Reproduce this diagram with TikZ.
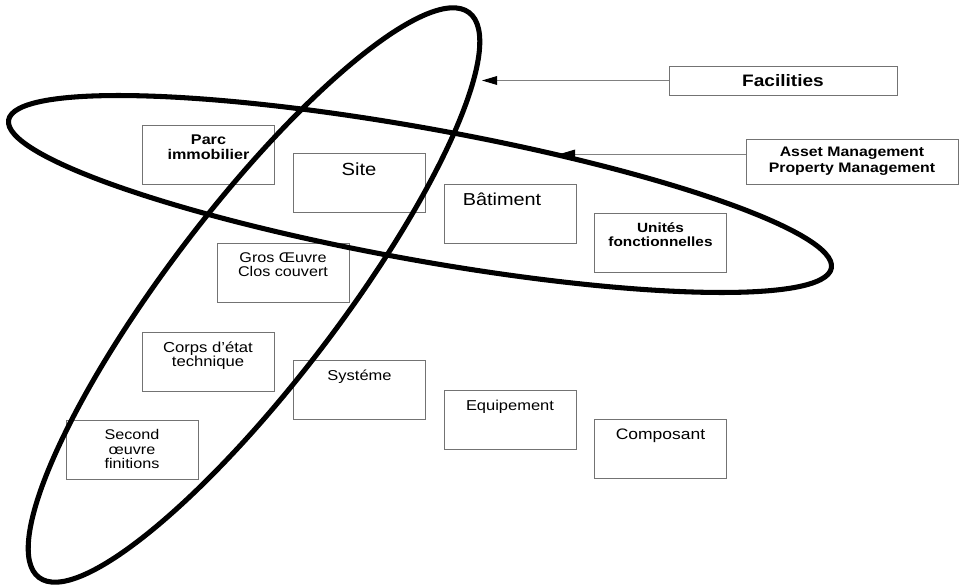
\documentclass[tikz,border=0pt]{standalone}
\usepackage{fontspec}
\setmainfont{Liberation Sans}[FakeStretch=1.15]
\usetikzlibrary{arrows.meta}

\tikzset{
	itemBox/.style={rectangle, draw=black!55, line width=0.7pt, minimum width=3.3cm, minimum height=1.475cm, inner sep=0pt},
	itemText/.style={anchor=north, align=center, inner sep=0pt, yshift=-0.24cm},
	groupBox/.style={rectangle, draw=black!55, line width=0.7pt, align=center, inner sep=0pt},
	groupArrow/.style={draw=black!50, line width=0.6pt, -{Triangle[length=0.38cm, width=0.22cm, color=black]}},
	groupEllipse/.style={draw=black, line width=3.6pt}
}

\begin{document}
\begin{tikzpicture}
	\useasboundingbox (0,0) rectangle (24.1,14.65);

	% draw top row boxes
	\node[itemBox, label={[itemText, font=\bfseries\fontsize{10}{10.7}\selectfont]north:{Parc\\immobilier}}](parcBox) at (5.2125,10.7875){};
	\node[itemBox, label={[itemText, font=\fontsize{12.5}{13}\selectfont]north:Site}](siteBox) at (8.975,10.075){};
	\node[itemBox, label={[itemText, xshift=-0.2cm, font=\fontsize{12.3}{13}\selectfont]north:Bâtiment}](batimentBox) at (12.75,9.3125){};
	\node[itemBox, label={[itemText, font=\bfseries\fontsize{9.5}{9.6}\selectfont]north:{Unités\\fonctionnelles}}](unitesBox) at (16.5125,8.575){};

	% draw middle boxes
	\node[itemBox, label={[itemText, font=\fontsize{10}{10}\selectfont]north:{Gros Œuvre\\Clos couvert}}](grosOeuvreBox) at (7.075,7.8375){};

	% draw bottom row boxes
	\node[itemBox, label={[itemText, font=\fontsize{10.3}{10.3}\selectfont]north:{Corps d'état\\technique}}](corpsEtatBox) at (5.2,5.6125){};
	\node[itemBox, label={[itemText, font=\fontsize{10.2}{11}\selectfont]north:Systéme}](systemeBox) at (8.9875,4.9){};
	\node[itemBox, label={[itemText, font=\fontsize{10.2}{11}\selectfont]north:Equipement}](equipementBox) at (12.75,4.15){};
	\node[itemBox, label={[itemText, font=\fontsize{10.8}{11}\selectfont]north:Composant}](composantBox) at (16.5125,3.425){};
	\node[itemBox, label={[itemText, font=\fontsize{10}{10.3}\selectfont]north:{Second\\œuvre\\finitions}}](secondOeuvreBox) at (3.3,3.4125){};

	% draw group boxes
	\node[groupBox, minimum width=5.7cm, minimum height=0.725cm, font=\bfseries\fontsize{11.8}{12}\selectfont](facilitiesBox) at (19.575,12.6375){Facilities};
	\node[groupBox, minimum width=5.3cm, minimum height=1.125cm, font=\bfseries\fontsize{9.8}{11.4}\selectfont](assetBox) at (21.3,10.6125){Asset Management\\Property Management};

	% draw ellipses
	\draw[groupEllipse, rotate around={52.7:(6.35,7.275)}] (6.35,7.275) ellipse [x radius=8.875cm, y radius=2.15cm];
	\draw[groupEllipse, rotate around={-10.2:(10.5,9.8)}] (10.5,9.8) ellipse [x radius=10.45cm, y radius=1.65cm];

	% draw arrows
	\coordinate(facilitiesTip) at (12.05,12.6375);
	\coordinate(assetTip) at (14.0,10.8);
	\draw[groupArrow] (facilitiesBox.west) -- (facilitiesTip);
	\draw[groupArrow] (assetTip -| assetBox.west) -- (assetTip);
\end{tikzpicture}
\end{document}
